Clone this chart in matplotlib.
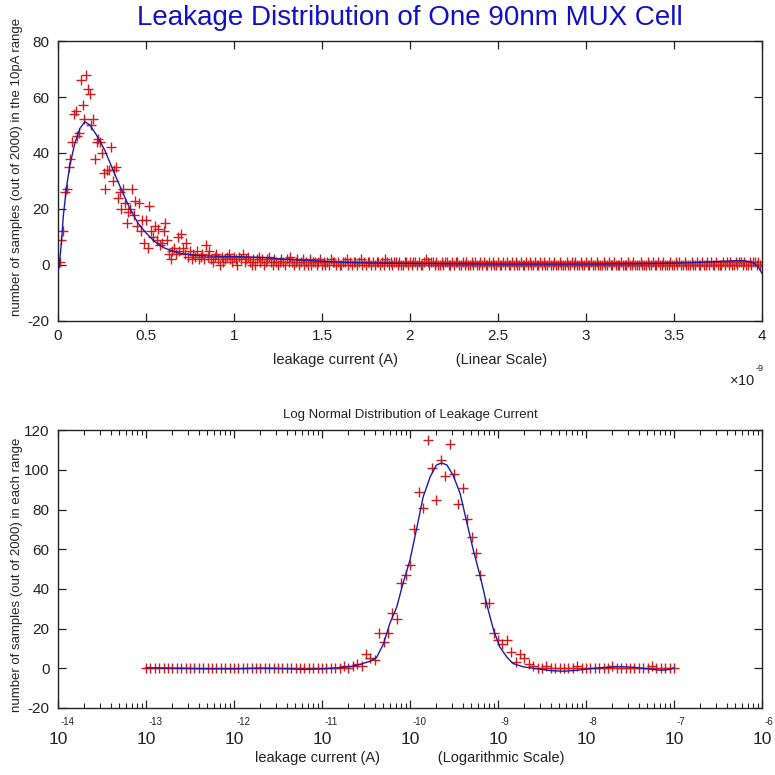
import numpy as np
import matplotlib
matplotlib.use('Agg')
import matplotlib.pyplot as plt
import matplotlib.transforms as mtransforms
from matplotlib.ticker import LogLocator, NullFormatter, FixedLocator, FuncFormatter

# ---------------- data ----------------
# top panel: counts per 10 pA bin, x in units of 1e-9 A
lin_bin_width = 0.01
lin_counts_head = [1, 9, 12, 26, 27, 35, 38, 44, 54, 55,
                   46, 47, 66, 57, 52, 68, 63, 61, 50, 52,
                   38, 44, 45, 44, 40, 33, 27, 34, 34, 42,
                   30, 34, 35, 24, 26, 20, 27, 22, 15, 19,
                   20, 27, 18, 23, 14, 22, 12, 16, 8, 16,
                   6, 21, 12, 10, 14, 9, 13, 7, 8, 12,
                   15, 9, 4, 2, 5, 6, 4, 10, 5, 11,
                   6, 4, 8, 3, 5, 2, 4, 3, 5, 2,
                   3, 4, 2, 7, 3, 5, 2, 1, 3, 4,
                   2, 0, 3, 1, 2, 3, 4, 2, 1, 3,
                   2, 0, 3, 2, 4, 1, 2, 3, 1, 0,
                   2, 0, 2, 3, 1, 2, 0, 1, 2, 3,
                   1, 0, 2, 1, 0, 1, 2, 1, 0, 2,
                   1, 3, 1, 0, 1, 2, 0, 1, 2, 0]
lin_counts_tail = ("10201101201010211010" "01120101101201011010" "11010210101101001101"
                   "01101001210110100101" "10010110010100101001" "01001010010010100101"
                   "00100101001001010010" "01001000100101001001" "00100100010010010001"
                   "00010010001000100100" "10010001001010010001" "00100100101001000101"
                   "01001011010010110100")
lin_counts = lin_counts_head + [int(c) for c in lin_counts_tail]

lin_fit_x = [0.0, 0.006, 0.021, 0.030, 0.049, 0.068, 0.096, 0.125, 0.153, 0.181,
             0.219, 0.266, 0.313, 0.361, 0.408, 0.455, 0.502, 0.550, 0.606, 0.682,
             0.776, 0.90, 1.0, 1.18, 1.3, 1.47, 1.6, 1.75, 2.0, 2.25,
             2.5, 2.75, 3.0, 3.25, 3.5, 3.65, 3.75, 3.85, 3.9, 3.95, 3.98, 4.0]
lin_fit_y = [-2.0, -1.0, 8.9, 17.3, 28.0, 35.7, 43.5, 48.8, 51.2, 50.0,
             46.4, 41.0, 33.9, 26.8, 20.2, 14.9, 11.3, 8.3, 6.0, 4.3,
             3.4, 3.1, 3.0, 2.6, 2.0, 1.4, 1.0, 0.7, 0.5, 0.4,
             0.3, 0.3, 0.3, 0.4, 0.6, 0.9, 1.2, 1.5, 1.5, 0.8, -0.8, -3.0]

# bottom panel: counts per log bin (log10 step 0.05 from 1e-13 to 1e-7)
log_start = -13.0
log_step = 0.05
log_counts_left = ("0000000000" "0000000000" "0000000000" "0000000000" "00000101")
log_counts_peak = [2, 1, 7, 5, 4, 18, 13, 18, 28, 25,
                   43, 47, 52, 70, 89, 81, 115, 101, 85, 105,
                   97, 113, 98, 83, 91, 75, 66, 58, 47, 33,
                   33, 18, 14, 12, 14, 8, 3, 7, 5, 2, 1]
log_counts_right = ("0010000001" "0000000100" "0000001000" "00")
log_counts = ([int(c) for c in log_counts_left] + log_counts_peak
              + [int(c) for c in log_counts_right])

log_fit_logx = [-13.0, -12.7, -12.4, -12.0, -11.7, -11.4, -11.2, -11.0, -10.8, -10.65,
                -10.55, -10.45, -10.38, -10.30, -10.23, -10.15, -10.08, -10.00, -9.92, -9.85,
                -9.77, -9.70, -9.64, -9.58, -9.51, -9.43, -9.36, -9.28, -9.20, -9.13,
                -9.05, -8.98, -8.90, -8.83, -8.71, -8.55, -8.40, -8.25, -8.10, -7.95,
                -7.80, -7.60, -7.45, -7.30, -7.15, -7.05, -7.0]
log_fit_y = [0.3, 0.1, -0.2, -0.3, 0.1, -0.2, -0.6, -0.3, 0.3, 1.0,
             2.2, 3.6, 5.4, 12.4, 22.5, 30.9, 42.7, 54.5, 71.3, 86.4,
             96.5, 102.4, 103.5, 102.4, 97.3, 88.1, 74.6, 59.5, 46.0, 32.6,
             19.2, 10.8, 5.7, 2.4, 0.7, -0.3, -1.2, -1.5, -1.0, -0.2,
             0.4, 0.8, 0.5, -0.3, -1.0, -0.6, 0.3]

log_decades = [-14, -13, -12, -11, -10, -9, -8, -7, -6]

# ---------------- style ----------------
plt.rcParams['font.family'] = ['Liberation Sans', 'DejaVu Sans']
plt.rcParams['mathtext.fontset'] = 'custom'
plt.rcParams['mathtext.rm'] = 'Liberation Sans'
plt.rcParams['mathtext.default'] = 'regular'
plt.rcParams['axes.unicode_minus'] = False

mark_color = '#d41a1a'
line_color = '#1c1ca8'
txt = '#222222'

fig = plt.figure(figsize=(7.75, 7.75), dpi=100)
fig.patch.set_facecolor('white')

ax1 = fig.add_axes([0.0748, 0.586, 0.9084, 0.361])
ax2 = fig.add_axes([0.0748, 0.0865, 0.9084, 0.3585])

# top panel
x_lin = lin_bin_width * np.arange(1, len(lin_counts) + 1)
ax1.plot(x_lin, lin_counts, linestyle='none', marker='+', markersize=7,
         markeredgewidth=1.0, color=mark_color, zorder=2)
ax1.plot(lin_fit_x, lin_fit_y, color=line_color, linewidth=1.0, zorder=3)
ax1.set_xlim(0, 4)
ax1.set_ylim(-20, 80)
ax1.xaxis.set_major_locator(FixedLocator([0, 0.5, 1, 1.5, 2, 2.5, 3, 3.5, 4]))
ax1.xaxis.set_major_formatter(FuncFormatter(lambda v, p: ('%g' % v)))
ax1.yaxis.set_major_locator(FixedLocator([-20, 0, 20, 40, 60, 80]))
ax1.set_xlabel('leakage current (A)              (Linear Scale)', fontsize=10.5,
               labelpad=7, color=txt)
ax1.set_ylabel('number of samples (out of 2000) in the 10pA range',
               fontsize=9.5, color=txt)
ax1.yaxis.set_label_coords(-0.05, 0.55)
ax1.text(0.990, -0.215, r'$\times$10', transform=ax1.transAxes, ha='right',
         va='center', fontsize=10.5, color=txt)
ax1.text(0.991, -0.17, '-9', transform=ax1.transAxes, ha='left',
         va='center', fontsize=6.5, color=txt)

# bottom panel
x_log = 10 ** (log_start + log_step * np.arange(len(log_counts)))
ax2.plot(x_log, log_counts, linestyle='none', marker='+', markersize=7,
         markeredgewidth=1.0, color=mark_color, zorder=2)
ax2.plot(10 ** np.array(log_fit_logx), log_fit_y, color=line_color, linewidth=1.0, zorder=3)
ax2.set_xscale('log')
ax2.set_xlim(1e-14, 1e-6)
ax2.set_ylim(-20, 120)
ax2.xaxis.set_major_locator(FixedLocator([10.0 ** e for e in log_decades]))
ax2.xaxis.set_minor_locator(LogLocator(base=10, subs=np.arange(2, 10), numticks=20))
ax2.xaxis.set_major_formatter(FuncFormatter(lambda v, p: '10'))
ax2.xaxis.set_minor_formatter(NullFormatter())
ax2.yaxis.set_major_locator(FixedLocator([-20, 0, 20, 40, 60, 80, 100, 120]))
ax2.set_title('Log Normal Distribution of Leakage Current', fontsize=9.5, pad=9, color=txt)
ax2.set_xlabel('leakage current (A)              (Logarithmic Scale)', fontsize=10.5,
               labelpad=3, color=txt)
ax2.set_ylabel('number of samples (out of 2000) in each range',
               fontsize=9.5, color=txt)
ax2.yaxis.set_label_coords(-0.05, 0.48)

# exponents of the decade labels, hung to the upper right of "10"
exp_trans = mtransforms.blended_transform_factory(ax2.transData, ax2.transAxes) + \
    mtransforms.ScaledTranslation(3 / 100, 0, fig.dpi_scale_trans)
for e in log_decades:
    ax2.text(10.0 ** e, -0.05, '%d' % e, transform=exp_trans, ha='left', va='center',
             fontsize=7, color=txt, clip_on=False)

for ax in (ax1, ax2):
    ax.tick_params(which='both', direction='in', top=True, right=True,
                   labelsize=11, colors=txt, pad=6)
    ax.tick_params(which='major', length=6, width=0.9)
    ax.tick_params(which='minor', length=3.5, width=0.8)
    for s in ax.spines.values():
        s.set_linewidth(1.0)
        s.set_color(txt)
ax2.tick_params(axis='x', which='major', labelsize=12.5, pad=17)

fig.text(0.529, 0.977, 'Leakage Distribution of One 90nm MUX Cell', ha='center',
         va='center', fontsize=20, color='#1212c0')

fig.savefig('out.png', dpi=100, facecolor='white')
